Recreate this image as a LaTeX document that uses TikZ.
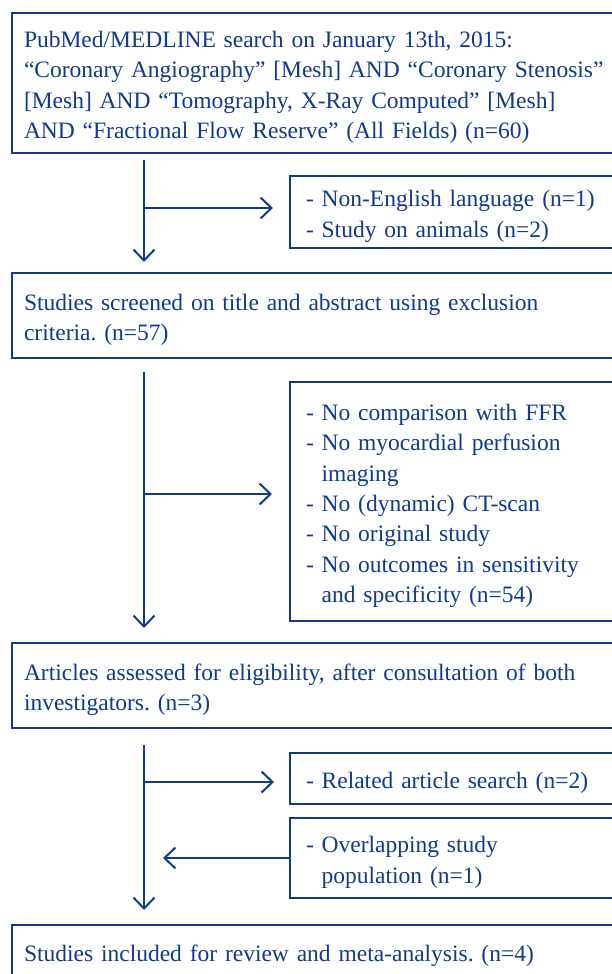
\documentclass[tikz,border=0pt]{standalone}
\usepackage{fontspec}
\setmainfont{Liberation Serif}
\usetikzlibrary{arrows.meta}
\definecolor{fblue}{RGB}{16,58,138}
\begin{document}
\frenchspacing
\begin{tikzpicture}[x=1pt,y=-1pt,
  box/.style={draw=fblue, line width=2pt, text=fblue, rectangle, anchor=north west,
    align=left, inner ysep=0pt, outer sep=0pt,
    execute at begin node={\rule{0pt}{25pt}},
    font=\fontsize{23.5}{30.4}\selectfont\frenchspacing},
  bigbox/.style={box, inner xsep=12pt, text width=616pt, minimum width=640pt},
  smallbox/.style={box, inner xsep=16pt, text width=318pt, minimum width=350pt},
  arr/.style={draw=fblue, line width=2pt, -{Straight Barb[length=11pt,width=21pt]}}
]
\useasboundingbox (0,0) rectangle (612,974);

\node[bigbox, minimum height=140pt] (b1) at (12,13)
  {PubMed/MEDLINE search on January 13th, 2015:\\
   “Coronary Angiography” [Mesh] AND “Coronary Stenosis”\\
   {[Mesh]} AND “Tomography, X-Ray Computed” [Mesh]\\
   AND “Fractional Flow Reserve” (All Fields) (n=60)};

\node[smallbox, minimum height=72pt] (b2) at (290,176)
  {- Non-English language (n=1)\\
   - Study on animals (n=2)};

\node[bigbox, minimum height=85pt] (b3) at (12,273)
  {Studies screened on title and abstract using exclusion\\
   criteria. (n=57)};

\node[smallbox, minimum height=239pt] (b4) at (290,382)
  {- No comparison with FFR\\
   - No myocardial perfusion\\
   \phantom{- }imaging\\
   - No (dynamic) CT-scan\\
   - No original study\\
   - No outcomes in sensitivity\\
   \phantom{- }and specificity (n=54)};

\node[bigbox, minimum height=85pt] (b5) at (12,643)
  {Articles assessed for eligibility, after consultation of both\\
   investigators. (n=3)};

\node[smallbox, minimum height=51pt] (b6) at (290,753)
  {- Related article search (n=2)};

\node[smallbox, minimum height=80pt] (b7) at (290,818)
  {- Overlapping study\\
   \phantom{- }population (n=1)};

\node[bigbox, minimum height=54pt] (b8) at (12,925)
  {Studies included for review and meta-analysis. (n=4)};

\coordinate (ax) at (144,0);
\coordinate (j1) at (144,208);
\coordinate (j2) at (144,494);
\coordinate (j3) at (144,782);

\draw[arr, shorten <=7pt, shorten >=11pt] (b1.south -| ax) -- (b3.north -| ax);
\draw[arr, shorten >=17pt] (j1) -- (j1 -| b2.west);

\draw[arr, shorten <=14pt, shorten >=15pt] (b3.south -| ax) -- (b5.north -| ax);
\draw[arr, shorten >=18pt] (j2) -- (j2 -| b4.west);

\draw[arr, shorten <=17pt, shorten >=15pt] (b5.south -| ax) -- (b8.north -| ax);
\draw[arr, shorten >=16pt] (j3) -- (j3 -| b6.west);
\draw[arr, shorten >=19pt] (b7.west) -- (b7.west -| ax);
\end{tikzpicture}
\end{document}
